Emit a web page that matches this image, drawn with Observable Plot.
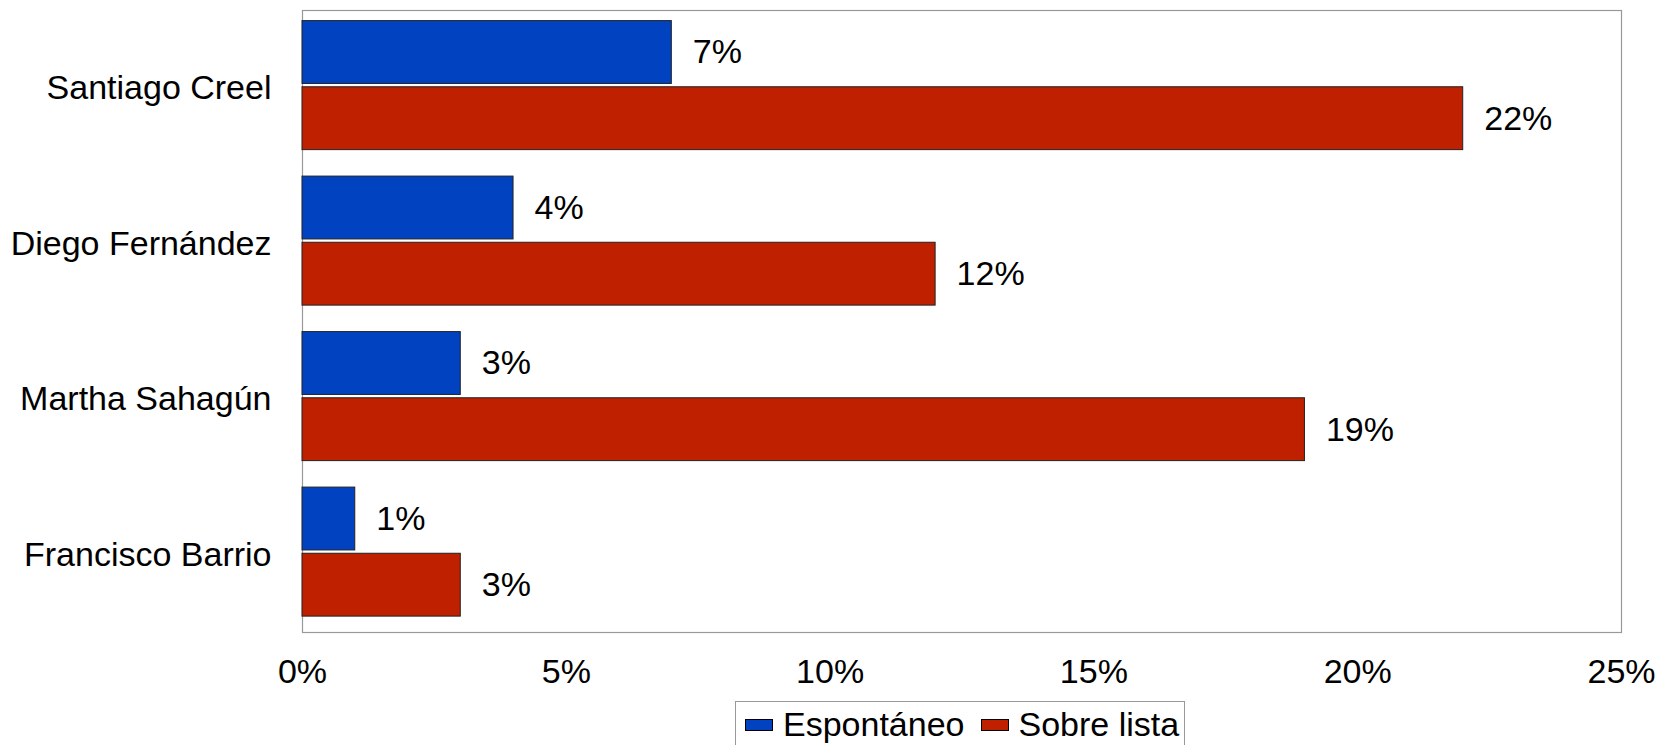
<!DOCTYPE html>
<html>
<head>
<meta charset="utf-8">
<script src="https://cdn.jsdelivr.net/npm/d3@7"></script>
<script src="https://cdn.jsdelivr.net/npm/@observablehq/plot@0.6"></script>
<style>
  html, body { margin: 0; padding: 0; background: #fff; overflow: hidden; }
  #chart svg { display: block; }
  #legend {
    display: inline-flex; align-items: center; margin-left: 735px; margin-top: 1px;
    border: 1px solid #999; border-bottom: none; height: 60px; padding: 0 5px 14px 9px;
    box-sizing: border-box; font-family: "Liberation Sans", Arial, sans-serif; font-size: 34px;
    white-space: nowrap; color: #000;
  }
  #legend .sw { width: 26px; height: 10px; border: 1px solid #000; margin-right: 10px; }
  #legend .item { display: inline-flex; align-items: center; margin-right: 16px; }
  #legend .item:last-child { margin-right: 0; }
</style>
</head>
<body>
<div id="chart"></div>
<div id="legend"></div>
<script>
const categories = ["Santiago Creel", "Diego Fernández", "Martha Sahagún", "Francisco Barrio"];
const series = ["Espontáneo", "Sobre lista"];
const espontaneo = [7, 4, 3, 1];
const sobreLista = [22, 12, 19, 3];
const colors = ["#0042C0", "#BE2000"];
const xTicks = [0, 5, 10, 15, 20, 25];

const data = [];
categories.forEach((c, i) => {
  data.push({category: c, series: series[0], value: espontaneo[i]});
  data.push({category: c, series: series[1], value: sobreLista[i]});
});

const chart = Plot.plot({
  width: 1658,
  height: 700,
  marginLeft: 302,
  marginRight: 37,
  marginTop: 10,
  marginBottom: 68,
  style: {fontFamily: "'Liberation Sans', Arial, sans-serif", fontSize: "34px", color: "#000", background: "#fff"},
  facet: {marginLeft: 302, marginRight: 37},
  fy: {domain: categories, padding: 0, round: false, axis: "left", label: null, tickSize: 0, tickPadding: 31},
  y: {domain: series, axis: null, round: false, paddingInner: 0.05, paddingOuter: 0.2, align: 0.4},
  x: {domain: [0, 25], ticks: xTicks, tickFormat: d => d + "%", label: null, tickSize: 0, tickPadding: 26},
  color: {domain: series, range: colors},
  marks: [
    Plot.frame({stroke: "#999", strokeWidth: 1.2, facet: "super"}),
    Plot.barX(data, {x: "value", y: "series", fy: "category", fill: "series", stroke: "#222", strokeWidth: 1}),
    Plot.text(data, {x: "value", y: "series", fy: "category", text: d => d.value + "%", dx: 21, textAnchor: "start", fontSize: 34, fill: "#000"})
  ]
});
document.getElementById("chart").appendChild(chart);

const legend = document.getElementById("legend");
series.forEach((s, i) => {
  const item = document.createElement("span");
  item.className = "item";
  const sw = document.createElement("span");
  sw.className = "sw";
  sw.style.background = colors[i];
  const t = document.createElement("span");
  t.textContent = s;
  item.appendChild(sw);
  item.appendChild(t);
  legend.appendChild(item);
});
</script>
</body>
</html>
